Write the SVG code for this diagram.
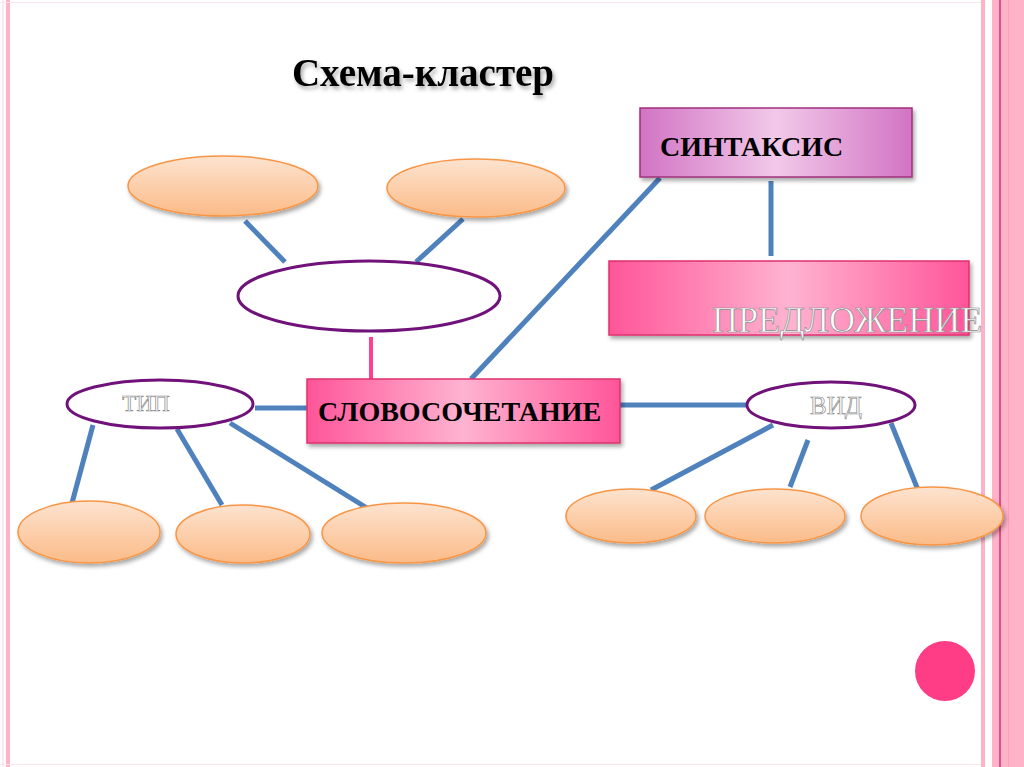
<svg xmlns="http://www.w3.org/2000/svg" width="1024" height="767" viewBox="0 0 1024 767">
<defs>
<linearGradient id="og" x1="0" y1="0" x2="0" y2="1"><stop offset="0" stop-color="#fde3cf"/><stop offset="1" stop-color="#fbbb88"/></linearGradient>
<linearGradient id="sg" x1="0" y1="0" x2="1" y2="0"><stop offset="0" stop-color="#d274c4"/><stop offset="0.5" stop-color="#f2c9e9"/><stop offset="1" stop-color="#d274c4"/></linearGradient>
<linearGradient id="pg" x1="0" y1="0" x2="1" y2="0"><stop offset="0" stop-color="#ff5599"/><stop offset="0.5" stop-color="#ffb3d0"/><stop offset="1" stop-color="#ff5599"/></linearGradient>
<filter id="sh" x="-10%" y="-10%" width="130%" height="140%"><feDropShadow dx="2" dy="3" stdDeviation="2" flood-color="#000" flood-opacity="0.35"/></filter>
</defs>
<style>
.conn{stroke:#4f81bd;stroke-width:5;fill:none}
.orange{fill:url(#og);stroke:#f79646;stroke-width:1.5}
.white{fill:#fff;stroke:#70127a;stroke-width:3}
.bold{font-family:"Liberation Serif",serif;font-weight:bold;fill:#000}
.ghost{font-family:"Liberation Serif",serif;fill:#fff;stroke:#8a8a8a;stroke-width:0.7}
</style>
<rect width="1024" height="767" fill="#fff"/>
<!-- borders -->
<rect x="2.5" y="0" width="1" height="767" fill="#fbd3df"/>
<rect x="6" y="0" width="4" height="767" fill="#ffb2c8"/>
<rect x="0" y="2" width="985" height="1" fill="#fde3ea"/>
<rect x="0" y="764" width="985" height="1" fill="#fde3ea"/>
<rect x="981" y="0" width="4" height="767" fill="#ffb2c8"/>
<rect x="992" y="0" width="32" height="767" fill="#ffb2c8"/>
<rect x="999" y="0" width="2" height="767" fill="#e0508a"/>
<rect x="1008" y="0" width="1" height="767" fill="#ff9fbd"/>
<!-- title -->
<text x="423" y="86" text-anchor="middle" class="bold" font-size="39" filter="url(#sh)">Схема-кластер</text>
<g id="connectors">
<line class="conn" x1="245" y1="221" x2="285" y2="262"/>
<line class="conn" x1="463" y1="219" x2="416" y2="262"/>
<line x1="371" y1="337" x2="371" y2="380" stroke="#ff3f8f" stroke-width="4"/>
<line class="conn" x1="660" y1="178" x2="471" y2="379"/>
<line class="conn" x1="771" y1="181" x2="771" y2="256"/>
<line class="conn" x1="255" y1="408" x2="307" y2="408"/>
<line class="conn" x1="620" y1="405" x2="747" y2="405"/>
<line class="conn" x1="93" y1="425" x2="72" y2="503"/>
<line class="conn" x1="177" y1="429" x2="222" y2="505"/>
<line class="conn" x1="230" y1="423" x2="367" y2="508"/>
<line class="conn" x1="773" y1="425" x2="651" y2="490"/>
<line class="conn" x1="808" y1="440" x2="790" y2="487"/>
<line class="conn" x1="891" y1="423" x2="918" y2="490"/>
</g>
<g id="syntax"><rect x="640" y="108" width="272" height="69" fill="url(#sg)" stroke="#a0307e" stroke-width="1.5" filter="url(#sh)"/>
<text x="660" y="156" class="bold" font-size="28">СИНТАКСИС</text></g>
<g id="sentence"><rect x="609" y="261" width="360" height="74" fill="url(#pg)" stroke="#e0306e" stroke-width="1.5" filter="url(#sh)"/>
<text x="712" y="332" class="ghost" font-size="36">ПРЕДЛОЖЕНИЕ</text></g>
<g id="phrase"><rect x="307" y="379" width="313" height="64" fill="url(#pg)" stroke="#e0306e" stroke-width="1.5" filter="url(#sh)"/>
<text x="318" y="421" class="bold" font-size="28">СЛОВОСОЧЕТАНИЕ</text></g>
<g id="center-oval"><ellipse cx="369" cy="296" rx="131" ry="35" class="white"/></g>
<g id="type"><ellipse cx="160" cy="404" rx="93" ry="24" class="white"/>
<text x="146" y="411" text-anchor="middle" class="ghost" font-size="23">ТИП</text></g>
<g id="kind"><ellipse cx="831" cy="405" rx="84" ry="23" class="white"/>
<text x="836" y="414" text-anchor="middle" class="ghost" font-size="25">ВИД</text></g>
<g id="o1"><ellipse cx="223" cy="186" rx="95" ry="30" class="orange" filter="url(#sh)"/></g>
<g id="o2"><ellipse cx="476" cy="188" rx="89" ry="29" class="orange" filter="url(#sh)"/></g>
<g id="o3"><ellipse cx="89" cy="532" rx="71" ry="31" class="orange" filter="url(#sh)"/></g>
<g id="o4"><ellipse cx="243" cy="534" rx="67" ry="29" class="orange" filter="url(#sh)"/></g>
<g id="o5"><ellipse cx="404" cy="533" rx="82" ry="30" class="orange" filter="url(#sh)"/></g>
<g id="o6"><ellipse cx="631" cy="516" rx="65" ry="27" class="orange" filter="url(#sh)"/></g>
<g id="o7"><ellipse cx="775" cy="516" rx="70" ry="27" class="orange" filter="url(#sh)"/></g>
<g id="o8"><ellipse cx="932" cy="516" rx="71" ry="29" class="orange" filter="url(#sh)"/></g>
<circle cx="945" cy="671" r="30" fill="#ff3d86"/>
</svg>
